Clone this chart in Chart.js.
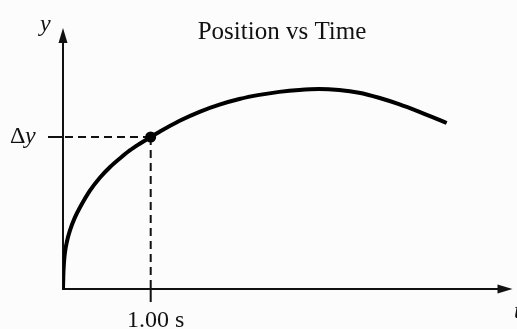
<!DOCTYPE html>
<html>
<head>
<meta charset="utf-8">
<script src="https://cdn.jsdelivr.net/npm/chart.js@4"></script>
<style>
html,body{margin:0;padding:0;background:#fcfcfc;}
#wrap{width:517px;height:329px;position:relative;}
</style>
</head>
<body>
<div id="wrap"><canvas id="c" width="517" height="329"></canvas></div>
<script>
// Data (time in s, position in units of Δy)
const times     = [0, 0.0034, 0.0114, 0.0227, 0.0455, 0.0795, 0.136, 0.193, 0.307, 0.420, 0.534, 0.648, 0.761, 0.875, 1.0,
                   1.102, 1.330, 1.557, 1.784, 2.011, 2.239, 2.466, 2.693, 2.920, 3.148, 3.375, 3.602, 3.830, 4.057, 4.284, 4.375];
const positions = [0, 0.085, 0.176, 0.242, 0.314, 0.386, 0.471, 0.536, 0.647, 0.732, 0.801, 0.859, 0.912, 0.956, 1.0,
                   1.035, 1.107, 1.166, 1.213, 1.250, 1.277, 1.297, 1.310, 1.316, 1.309, 1.291, 1.258, 1.216, 1.167, 1.114, 1.092];
const markTime = [1.0];
const markPos  = [1.0];
const titleText = 'Position vs Time';
const xTickLabel = '1.00 s';
const yTickLabel = 'Δ';
const yTickVar = 'y';
const xAxisLabel = 't';
const yAxisLabel = 'y';

const curve = times.map((t, i) => ({x: t, y: positions[i]}));
const mark = markTime.map((t, i) => ({x: t, y: markPos[i]}));

const serif = '"Liberation Serif", "Times New Roman", serif';

const decor = {
  id: 'decor',
  beforeDatasetsDraw(chart) {
    const {ctx, chartArea: a, scales: {x, y}} = chart;
    const ox = x.getPixelForValue(0), oy = y.getPixelForValue(0);
    const mx = x.getPixelForValue(markTime[0]), my = y.getPixelForValue(markPos[0]);
    ctx.save();
    ctx.strokeStyle = '#111'; ctx.fillStyle = '#111';
    ctx.lineWidth = 2;
    // axes
    ctx.beginPath();
    ctx.moveTo(ox, oy); ctx.lineTo(ox, a.top + 10);
    ctx.moveTo(ox - 1, oy); ctx.lineTo(a.right - 10, oy);
    ctx.stroke();
    // arrowheads
    ctx.beginPath();
    ctx.moveTo(ox, a.top - 2); ctx.lineTo(ox - 4.5, a.top + 13); ctx.lineTo(ox + 4.5, a.top + 13); ctx.closePath();
    ctx.fill();
    ctx.beginPath();
    ctx.moveTo(a.right + 1, oy); ctx.lineTo(a.right - 14, oy - 4.5); ctx.lineTo(a.right - 14, oy + 4.5); ctx.closePath();
    ctx.fill();
    // ticks
    ctx.beginPath();
    ctx.moveTo(ox - 15, my); ctx.lineTo(ox, my);
    ctx.moveTo(mx, oy); ctx.lineTo(mx, oy + 13);
    ctx.stroke();
    // dashed guides
    ctx.setLineDash([8, 5]);
    ctx.beginPath();
    ctx.moveTo(ox + 2, my); ctx.lineTo(mx, my);
    ctx.moveTo(mx, my); ctx.lineTo(mx, oy);
    ctx.stroke();
    ctx.setLineDash([]);
    // texts
    ctx.fillStyle = '#111';
    ctx.textBaseline = 'alphabetic';
    ctx.font = '25px ' + serif;
    ctx.textAlign = 'center';
    ctx.fillText(titleText, 282, 39);
    ctx.font = '24px ' + serif;
    ctx.fillText(xTickLabel, mx + 5, 327);
    ctx.textAlign = 'left';
    ctx.fillText(yTickLabel, 10, 143);
    ctx.font = 'italic 24px ' + serif;
    ctx.fillText(yTickVar, 25, 143);
    ctx.fillText(yAxisLabel, 40, 31);
    ctx.fillText(xAxisLabel, 514, 318);
    ctx.restore();
  }
};

new Chart(document.getElementById('c'), {
  type: 'scatter',
  data: {
    datasets: [
      {data: curve, showLine: true, borderColor: '#000', borderWidth: 4, pointRadius: 0,
       cubicInterpolationMode: 'monotone', fill: false},
      {data: mark, showLine: false, pointRadius: 5.5, pointBackgroundColor: '#000', pointBorderWidth: 0}
    ]
  },
  options: {
    responsive: false,
    animation: false,
    layout: {padding: {left: 63, right: 4, top: 30, bottom: 40}},
    plugins: {legend: {display: false}, tooltip: {enabled: false}, title: {display: false}},
    scales: {
      x: {type: 'linear', display: false, min: 0, max: 5.114},
      y: {type: 'linear', display: false, min: 0, max: 1.704}
    }
  },
  plugins: [decor]
});
</script>
</body>
</html>
